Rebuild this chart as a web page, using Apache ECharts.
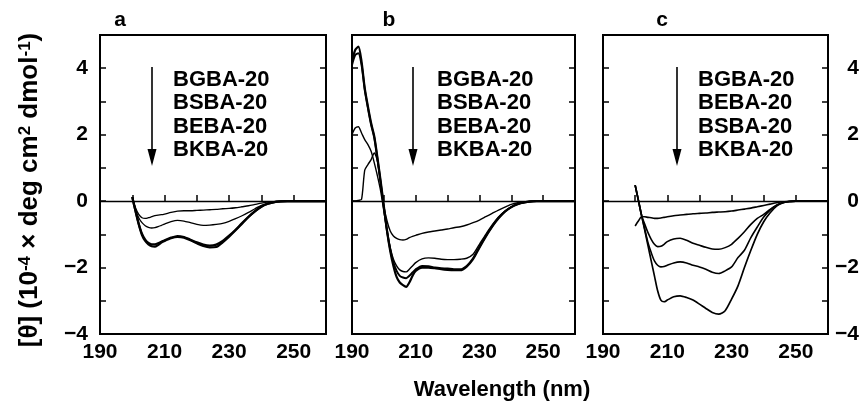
<!DOCTYPE html>
<html>
<head>
<meta charset="utf-8">
<script src="https://cdn.jsdelivr.net/npm/echarts@6/dist/echarts.min.js"></script>
<style>html,body{margin:0;padding:0;background:#fff;}#c{width:862px;height:419px;}</style>
</head>
<body>
<div id="c"></div>
<script>
// ---- data (wavelength in nm, [θ] in 10^-4 deg cm2 dmol-1) ----
const wlA = [200,201,202,203,204,205,206,207,208,209,210,212,214,216,218,220,222,224,226,228,230,232,234,236,238,240,242,244,246,248,250,255,260];
const aBGBA = [0.12,-0.2,-0.4,-0.5,-0.52,-0.5,-0.47,-0.44,-0.42,-0.41,-0.39,-0.34,-0.3,-0.29,-0.29,-0.28,-0.27,-0.26,-0.25,-0.23,-0.22,-0.2,-0.17,-0.14,-0.1,-0.06,-0.03,-0.02,-0.01,0,0,0,0];
const aBSBA = [0.12,-0.25,-0.5,-0.65,-0.74,-0.79,-0.81,-0.8,-0.77,-0.73,-0.69,-0.62,-0.58,-0.6,-0.65,-0.7,-0.73,-0.72,-0.7,-0.67,-0.61,-0.53,-0.44,-0.34,-0.23,-0.13,-0.06,-0.03,-0.01,0,0,0,0];
const aBEBA = [0.12,-0.3,-0.68,-0.98,-1.16,-1.26,-1.3,-1.3,-1.27,-1.22,-1.18,-1.1,-1.05,-1.08,-1.16,-1.24,-1.31,-1.34,-1.31,-1.2,-1.04,-0.86,-0.66,-0.47,-0.3,-0.16,-0.08,-0.03,-0.01,0,0,0,0];
const aBKBA = [0.12,-0.3,-0.7,-1.02,-1.2,-1.3,-1.36,-1.37,-1.32,-1.25,-1.2,-1.12,-1.08,-1.1,-1.18,-1.27,-1.35,-1.39,-1.38,-1.24,-1.07,-0.88,-0.68,-0.48,-0.31,-0.17,-0.08,-0.03,-0.01,0,0,0,0];

const wlB = [190,191,192,193,194,195,196,197,198,199,200,201,202,203,204,205,206,207,208,209,210,212,214,216,218,220,222,224,226,228,230,232,234,236,238,240,242,244,246,248,250,255,260];
const bBGBA = [0,0,0.02,0.05,0.93,1.1,1.25,1.45,1.2,0.55,-0.15,-0.6,-0.9,-1.05,-1.12,-1.16,-1.17,-1.15,-1.1,-1.06,-1.03,-0.97,-0.93,-0.9,-0.87,-0.84,-0.8,-0.77,-0.72,-0.65,-0.57,-0.47,-0.37,-0.27,-0.18,-0.1,-0.05,-0.02,-0.01,0,0,0,0];
const bBSBA = [2.0,2.2,2.24,2.05,1.85,1.7,1.5,1.15,0.75,0.3,-0.3,-0.9,-1.4,-1.75,-1.95,-2.07,-2.12,-2.13,-2.05,-1.95,-1.85,-1.74,-1.71,-1.72,-1.75,-1.76,-1.76,-1.75,-1.72,-1.6,-1.3,-1.0,-0.72,-0.48,-0.3,-0.17,-0.09,-0.04,-0.01,0,0,0,0];
const bBEBA = [4.1,4.4,4.45,4.1,3.35,2.8,2.3,1.9,1.25,0.55,-0.2,-0.9,-1.45,-1.85,-2.1,-2.25,-2.3,-2.32,-2.25,-2.15,-2.05,-1.95,-1.96,-2.0,-2.02,-2.03,-2.05,-2.05,-1.95,-1.72,-1.38,-1.05,-0.76,-0.5,-0.31,-0.18,-0.09,-0.04,-0.01,0,0,0,0];
const bBKBA = [4.2,4.55,4.65,4.2,3.4,2.85,2.35,1.95,1.3,0.6,-0.15,-0.9,-1.5,-1.95,-2.28,-2.45,-2.53,-2.58,-2.45,-2.25,-2.1,-2.0,-2.0,-2.02,-2.05,-2.07,-2.08,-2.08,-1.97,-1.75,-1.4,-1.07,-0.77,-0.52,-0.32,-0.18,-0.09,-0.04,-0.01,0,0,0,0];

const wlC = [200,201,202,203,204,205,206,207,208,209,210,212,214,216,218,220,222,224,226,228,230,232,234,236,238,240,242,244,246,248,250,255,260];
const cBGBA = [-0.75,-0.6,-0.47,-0.47,-0.49,-0.5,-0.52,-0.52,-0.51,-0.49,-0.47,-0.44,-0.42,-0.4,-0.38,-0.37,-0.36,-0.34,-0.33,-0.32,-0.3,-0.27,-0.24,-0.21,-0.17,-0.13,-0.09,-0.05,-0.02,-0.01,0,0,0];
const cBEBA = [0.48,0.03,-0.43,-0.7,-0.95,-1.15,-1.3,-1.37,-1.36,-1.3,-1.22,-1.14,-1.12,-1.18,-1.27,-1.33,-1.39,-1.44,-1.45,-1.4,-1.3,-1.12,-0.92,-0.7,-0.52,-0.4,-0.25,-0.12,-0.04,-0.01,0,0,0];
const cBSBA = [0.48,0.03,-0.43,-0.85,-1.25,-1.55,-1.8,-1.93,-1.98,-1.97,-1.93,-1.86,-1.83,-1.86,-1.93,-1.98,-2.05,-2.14,-2.18,-2.1,-1.98,-1.7,-1.48,-1.1,-0.78,-0.48,-0.27,-0.12,-0.05,-0.01,0,0,0];
const cBKBA = [0.48,0.03,-0.43,-0.88,-1.34,-1.8,-2.25,-2.7,-2.98,-3.03,-2.98,-2.88,-2.85,-2.9,-2.98,-3.1,-3.23,-3.35,-3.4,-3.3,-2.95,-2.55,-2.0,-1.48,-1.0,-0.62,-0.35,-0.15,-0.05,-0.01,0,0,0];

const panelLetters = ['a','b','c'];
const legendA = ['BGBA-20','BSBA-20','BEBA-20','BKBA-20'];
const legendB = ['BGBA-20','BSBA-20','BEBA-20','BKBA-20'];
const legendC = ['BGBA-20','BEBA-20','BSBA-20','BKBA-20'];
const xTicks = [190, 210, 230, 250];
const yTicks = [-4, -2, 0, 2, 4];
const xTitle = 'Wavelength (nm)';

// ---- build ----
const FF = '"Liberation Sans", Arial, Helvetica, sans-serif';
const pairs = (x, y) => x.map((v, i) => [v, y[i]]);
const grids = [
  {left: 100, top: 35, width: 226, height: 299},
  {left: 352, top: 35, width: 223, height: 299},
  {left: 603, top: 35, width: 228, height: 299}
];
const fmtY = v => yTicks.indexOf(v) >= 0 ? (v < 0 ? '\u2212' + Math.abs(v) : String(v)) : '';
const fmtX = v => xTicks.indexOf(v) >= 0 ? String(v) : '';

const xAxis = [], yAxis = [];
grids.forEach((g, i) => {
  xAxis.push({
    gridIndex: i, type: 'value', min: 190, max: 260, interval: 10,
    axisLine: {show: false},
    axisTick: {inside: true, length: 6, lineStyle: {color: '#000', width: 1.5}},
    splitLine: {show: false},
    axisLabel: {formatter: fmtX, margin: 8, color: '#000', fontSize: 21, fontWeight: 'bold', fontFamily: FF, showMinLabel: true, showMaxLabel: true}
  });
  ['left', 'right'].forEach(pos => {
    const showLab = (i === 0 && pos === 'left') || (i === 2 && pos === 'right');
    yAxis.push({
      gridIndex: i, type: 'value', min: -4, max: 5, interval: 1, position: pos,
      axisLine: {show: false},
      axisTick: {inside: true, length: 6, lineStyle: {color: '#000', width: 1.5}},
      splitLine: {show: false},
      axisLabel: {show: showLab, formatter: fmtY, color: '#000', fontSize: 21, fontWeight: 'bold', fontFamily: FF,
        margin: pos === 'left' ? 12 : 31, align: 'right'}
    });
  });
});

const panels = [
  {wl: wlA, sets: [[aBGBA, 1.3], [aBSBA, 1.3], [aBEBA, 2.2], [aBKBA, 2.2]]},
  {wl: wlB, sets: [[bBGBA, 1.4], [bBSBA, 1.4], [bBEBA, 2.0], [bBKBA, 2.2]]},
  {wl: wlC, sets: [[cBGBA, 1.6], [cBEBA, 1.6], [cBSBA, 1.6], [cBKBA, 1.7]]}
];
const series = [];
panels.forEach((p, i) => {
  p.sets.forEach((s, k) => {
    const ser = {
      type: 'line', xAxisIndex: i, yAxisIndex: 2 * i, data: pairs(p.wl, s[0]),
      showSymbol: false, symbol: 'none', smooth: 0.25, silent: true,
      lineStyle: {color: '#000', width: s[1]}
    };
    if (k === 0) {
      ser.markLine = {silent: true, symbol: 'none', label: {show: false},
        lineStyle: {color: '#000', width: 1.3, type: 'solid'}, data: [{yAxis: 0}]};
    }
    series.push(ser);
  });
});

const textStyleBold = (size) => ({fontSize: size, fontWeight: 'bold', fontFamily: FF, fill: '#000'});
const graphic = [];
const letterX = [120, 389, 662];
panelLetters.forEach((t, i) => graphic.push({type: 'text', x: letterX[i], y: 20,
  style: Object.assign({text: t, align: 'center', verticalAlign: 'middle'}, textStyleBold(21))}));
const legends = [legendA, legendB, legendC];
const legX = [173, 437, 698];
const arrowX = [152, 413, 677];
legends.forEach((l, i) => {
  graphic.push({type: 'text', x: legX[i], y: 68,
    style: Object.assign({text: l.join('\n'), lineHeight: 23.5, align: 'left', verticalAlign: 'top'}, textStyleBold(22))});
  graphic.push({type: 'line', shape: {x1: arrowX[i], y1: 67, x2: arrowX[i], y2: 152}, style: {stroke: '#000', lineWidth: 1.6}});
  graphic.push({type: 'polygon', shape: {points: [[arrowX[i] - 4.5, 149], [arrowX[i] + 4.5, 149], [arrowX[i], 166]]}, style: {fill: '#000'}});
});
graphic.push({type: 'text', x: 502, y: 390,
  style: Object.assign({text: xTitle, align: 'center', verticalAlign: 'middle'}, textStyleBold(22))});
graphic.push({type: 'text', x: 30, y: 190, rotation: Math.PI / 2,
  style: Object.assign({
    text: '[\u03b8] (10{sup|-4} \u00d7 deg cm{sup|2} dmol{sup|-1})',
    align: 'center', verticalAlign: 'middle',
    rich: {sup: {fontSize: 17, fontWeight: 'bold', fontFamily: FF, verticalAlign: 'top', fill: '#000'}}
  }, textStyleBold(26))});

const chart = echarts.init(document.getElementById('c'), null, {renderer: 'canvas'});
chart.setOption({
  animation: false,
  backgroundColor: '#fff',
  grid: grids.map(g => Object.assign({show: true, borderColor: '#000', borderWidth: 2, backgroundColor: 'transparent'}, g)),
  xAxis, yAxis, series, graphic
});
</script>
</body>
</html>
